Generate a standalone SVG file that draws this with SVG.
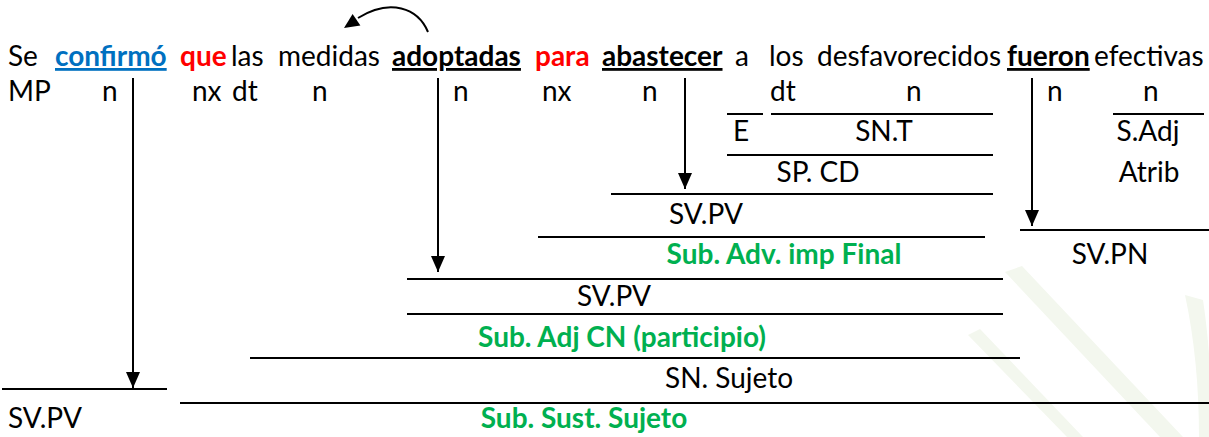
<svg xmlns="http://www.w3.org/2000/svg" width="1209" height="437" viewBox="0 0 1209 437">
<style>
text{font-family:Lato,"Liberation Sans",sans-serif;font-size:28px;fill:#000}
.b{font-weight:bold}
.u{text-decoration:underline}
.blue{fill:#0070C0}
.red{fill:#FF0000}
.green{fill:#00B050;font-weight:bold}
.m{text-anchor:middle}
.rule{stroke:#000;stroke-width:2}
.arr{stroke:#000;stroke-width:2;fill:none}
.wm{fill:#F3F7EE}
</style>
<defs>
<marker id="ah" viewBox="0 0 16 14" refX="16" refY="7" markerWidth="16" markerHeight="14" markerUnits="userSpaceOnUse" orient="auto">
<path d="M0,0 L16,7 L0,14 z" fill="#000"/>
</marker>
</defs>
<rect width="1209" height="437" fill="#fff"/>
<g id="watermark">
<polygon class="wm" points="1005,272 1022,266 1183,437 1160,437"/>
<polygon class="wm" points="968,335 980,329 1083,437 1067,437"/>
<path class="wm" d="M1185,295 L1203,300 Q1212,360 1212,437 L1199,437 Q1199,360 1185,295 z"/>
</g>
<g id="sentence">
<text x="8" y="66">Se</text>
<text x="55" y="66" class="b blue u">confirmó</text>
<text x="180" y="66" class="b red">que</text>
<text x="231" y="66">las</text>
<text x="278" y="66">medidas</text>
<text x="392" y="66" class="b u">adoptadas</text>
<text x="535" y="66" class="b red">para</text>
<text x="602" y="66" class="b u">abastecer</text>
<text x="735" y="66">a</text>
<text x="769" y="66">los</text>
<text x="817" y="66">desfavorecidos</text>
<text x="1007" y="66" class="b u">fueron</text>
<text x="1094" y="66">efectivas</text>
</g>
<g id="word-tags">
<text x="8" y="101">MP</text>
<text x="102" y="101">n</text>
<text x="192" y="101">nx</text>
<text x="232" y="101">dt</text>
<text x="312" y="101">n</text>
<text x="453" y="101">n</text>
<text x="542" y="101">nx</text>
<text x="642" y="101">n</text>
<text x="770" y="101">dt</text>
<text x="906" y="101">n</text>
<text x="1047" y="101">n</text>
<text x="1143" y="101">n</text>
</g>
<g id="rules">
<line class="rule" x1="727" y1="114" x2="763" y2="114"/>
<line class="rule" x1="771" y1="114" x2="993" y2="114"/>
<line class="rule" x1="1113" y1="114" x2="1204" y2="114"/>
<line class="rule" x1="727" y1="155" x2="993" y2="155"/>
<line class="rule" x1="611" y1="194" x2="993" y2="194"/>
<line class="rule" x1="1020" y1="230" x2="1209" y2="230"/>
<line class="rule" x1="538" y1="237" x2="985" y2="237"/>
<line class="rule" x1="407" y1="279" x2="1003" y2="279"/>
<line class="rule" x1="407" y1="314" x2="1003" y2="314"/>
<line class="rule" x1="250" y1="358" x2="1020" y2="358"/>
<line class="rule" x1="2" y1="389" x2="167" y2="389"/>
<line class="rule" x1="180" y1="403" x2="1209" y2="403"/>
</g>
<g id="node-E"><text x="733" y="141">E</text></g>
<g id="node-SNT"><text x="884" y="141" class="m">SN.T</text></g>
<g id="node-SAdj"><text x="1148" y="141" class="m">S.Adj</text></g>
<g id="node-SPCD"><text x="818" y="182" class="m">SP. CD</text></g>
<g id="node-Atrib"><text x="1149" y="182" class="m">Atrib</text></g>
<g id="node-SVPV1"><text x="706" y="224" class="m">SV.PV</text></g>
<g id="node-SubAdvFinal"><text x="784" y="264" class="m green">Sub. Adv. imp Final</text></g>
<g id="node-SVPN"><text x="1110" y="264" class="m">SV.PN</text></g>
<g id="node-SVPV2"><text x="614" y="306" class="m">SV.PV</text></g>
<g id="node-SubAdjCN"><text x="622" y="347" class="m green">Sub. Adj CN (participio)</text></g>
<g id="node-SNSujeto"><text x="729" y="388" class="m">SN. Sujeto</text></g>
<g id="node-SVPV3"><text x="8" y="428">SV.PV</text></g>
<g id="node-SubSustSujeto"><text x="584" y="428" class="m green">Sub. Sust. Sujeto</text></g>
<g id="connectors">
<line class="arr" x1="133" y1="78" x2="133" y2="388" marker-end="url(#ah)"/>
<line class="arr" x1="438" y1="78" x2="438" y2="272" marker-end="url(#ah)"/>
<line class="arr" x1="685" y1="78" x2="685" y2="189" marker-end="url(#ah)"/>
<line class="arr" x1="1032" y1="78" x2="1032" y2="226" marker-end="url(#ah)"/>
<path class="arr" d="M428,32 C418,8 390,-2 358,18"/>
<polygon points="344,28 352.6,13.9 360.4,25.5" fill="#000"/>
</g>
</svg>
